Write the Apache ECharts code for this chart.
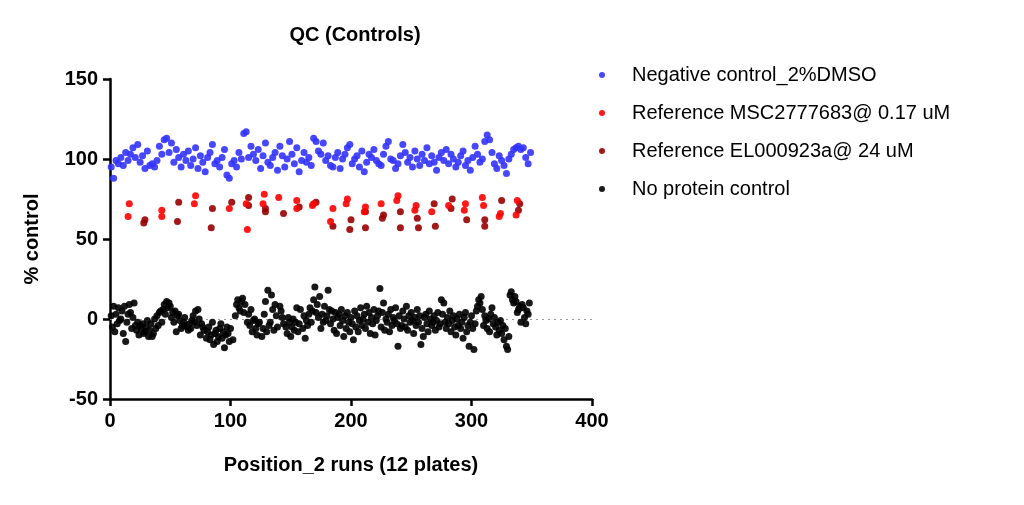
<!DOCTYPE html>
<html><head><meta charset="utf-8">
<script src="https://cdn.jsdelivr.net/npm/echarts@6/dist/echarts.min.js"></script>
<style>html,body{margin:0;background:#fff}#c{width:1024px;height:505px}</style>
</head><body><div id="c"></div>
<script>
const seriesNames=["Negative control_2%DMSO","Reference MSC2777683@ 0.17 uM","Reference EL000923a@ 24 uM","No protein control"];
const xTicks=[0,100,200,300,400];
const yTicks=[-50,0,50,100,150];
const negCtrl=[[1,95],[3,88],[5,99],[7,97],[9,101],[11,96],[13,104],[15,99],[17,103],[19,107],[21,101],[23,109],[25,98],[27,102],[29,94],[31,105],[33,96],[35,97],[37,95],[39,99],[41,108],[43,103],[45,112],[47,113],[49,104],[51,110],[53,98],[55,106],[57,101],[59,95],[61,103],[63,99],[65,105],[67,96],[69,100],[71,107],[73,94],[75,102],[77,98],[79,92],[81,101],[83,104],[85,109],[87,97],[89,99],[91,95],[93,101],[95,106],[97,90],[99,88],[101,97],[103,99],[105,95],[107,104],[109,100],[111,116],[113,117],[115,101],[117,108],[119,103],[121,99],[123,106],[125,94],[127,102],[129,110],[131,98],[133,96],[135,101],[137,104],[139,93],[141,108],[143,102],[145,95],[147,100],[149,111],[151,103],[153,97],[155,107],[157,92],[159,99],[161,104],[163,98],[165,101],[167,96],[169,113],[171,111],[173,105],[175,103],[177,110],[179,99],[181,102],[183,96],[185,95],[187,101],[189,104],[191,94],[193,100],[195,103],[197,107],[199,109],[201,97],[203,100],[205,102],[207,95],[209,105],[211,92],[213,98],[215,103],[217,101],[219,106],[221,99],[223,97],[225,96],[227,103],[229,108],[231,111],[233,100],[235,99],[237,94],[239,97],[241,102],[243,109],[245,104],[247,98],[249,101],[251,95],[253,105],[255,100],[257,96],[259,103],[261,99],[263,107],[265,97],[267,102],[269,98],[271,93],[273,101],[275,104],[277,99],[279,106],[281,97],[283,103],[285,100],[287,95],[289,98],[291,102],[293,105],[295,96],[297,99],[299,93],[301,101],[303,108],[305,103],[307,98],[309,100],[311,111],[313,115],[315,112],[317,104],[319,97],[321,94],[323,102],[325,99],[327,96],[329,91],[331,100],[333,103],[335,106],[337,107],[339,108],[341,106],[343,107],[345,101],[347,97],[349,104]];
const refMSC=[[16,72],[15,64],[43,68],[43,64],[71,77],[70,72],[99,69],[114,56],[113,72],[128,78],[127,72],[140,76],[155,74],[155,69],[169,72],[168,71],[185,69],[183,61],[197,75],[196,72],[212,70],[211,67],[225,72],[239,77],[238,74],[254,71],[253,68],[267,67],[281,71],[295,72],[294,68],[309,76],[310,71],[324,66],[323,64],[338,74],[337,65]];
const refEL=[[29,62],[28,60],[57,73],[56,61],[85,69],[84,57],[101,73],[115,76],[115,71],[129,69],[129,67],[144,66],[157,70],[171,73],[185,58],[200,62],[199,56],[212,67],[212,57],[227,65],[226,63],[241,67],[241,57],[255,63],[256,57],[270,58],[269,72],[284,75],[283,69],[296,62],[311,62],[311,58],[325,74],[340,72],[339,68]];
const noProt=[[1,2],[2,-5],[3,8],[4,-8],[5,3],[6,-3],[7,7],[8,-1],[9,0],[10,5],[11,-9],[12,8],[13,-14],[14,-2],[15,3],[16,9],[17,4],[18,-6],[19,1],[20,10],[21,-4],[22,-7],[23,-2],[24,-10],[25,-4],[26,-6],[27,-3],[28,-9],[29,-8],[30,-5],[31,-1],[32,-11],[33,-7],[34,-3],[35,-11],[36,-9],[37,0],[38,-6],[39,2],[40,-4],[41,4],[42,5],[43,-2],[44,6],[45,9],[46,3],[47,11],[48,7],[49,10],[50,8],[51,1],[52,4],[53,-2],[54,5],[55,-8],[56,2],[57,3],[58,-1],[59,-6],[60,-4],[61,-2],[62,1],[63,-4],[64,-5],[65,-7],[66,-3],[67,-6],[68,-1],[69,2],[70,-2],[71,5],[72,-4],[73,6],[74,0],[75,-10],[76,-3],[77,-5],[78,-7],[80,-12],[81,-8],[82,-5],[83,-13],[84,-10],[85,-2],[86,-16],[87,-9],[88,-7],[89,-14],[90,-11],[91,-6],[92,-3],[93,-12],[94,-8],[95,-18],[96,-10],[97,-5],[98,-9],[99,-14],[100,-6],[102,-13],[104,2],[105,9],[106,12],[107,7],[108,5],[109,11],[110,13],[111,4],[112,9],[114,-2],[115,3],[116,-4],[117,6],[118,-8],[119,-1],[120,0],[121,-6],[122,-10],[123,-3],[124,-2],[126,-11],[127,-6],[128,3],[129,11],[130,-8],[131,18],[132,-4],[133,-2],[134,15],[135,6],[136,-7],[137,9],[138,2],[139,-5],[141,8],[142,5],[143,1],[144,-3],[146,-5],[147,-9],[148,1],[149,-2],[150,-11],[151,-5],[152,0],[153,-7],[154,-2],[155,7],[156,-8],[157,-3],[158,6],[160,-6],[161,2],[162,-12],[163,-1],[164,-4],[165,3],[166,7],[167,-2],[168,5],[169,12],[170,20],[171,4],[172,9],[173,1],[174,14],[175,-6],[176,3],[177,-2],[178,8],[179,-1],[180,2],[181,18],[182,6],[183,-3],[184,5],[185,0],[186,-7],[187,4],[188,-9],[189,1],[190,3],[191,-4],[192,6],[193,-1],[194,-11],[195,2],[196,-6],[197,4],[198,-2],[199,-8],[200,1],[201,-3],[202,-13],[203,5],[204,-5],[205,2],[206,-8],[207,-1],[208,7],[209,-4],[210,0],[211,3],[212,-6],[213,8],[214,-2],[215,4],[216,-9],[217,1],[218,-3],[219,6],[220,-10],[221,-1],[222,2],[223,5],[224,19],[225,-5],[226,4],[227,10],[228,-7],[229,0],[230,-2],[231,3],[232,-8],[233,6],[234,-4],[235,1],[236,-1],[237,7],[238,-3],[239,-17],[240,2],[241,-6],[242,-4],[243,5],[244,0],[245,-5],[246,8],[247,-7],[248,2],[249,-2],[250,4],[251,-1],[252,-9],[253,1],[254,-4],[255,6],[256,-2],[257,2],[258,-16],[259,-6],[260,-11],[261,1],[262,3],[263,-3],[264,-8],[265,5],[266,0],[267,-4],[268,-2],[269,2],[270,-7],[271,-1],[272,4],[273,-5],[274,-3],[275,12],[276,3],[277,10],[278,-2],[279,-6],[280,1],[281,-3],[282,5],[283,-8],[284,-1],[285,2],[286,-5],[287,-10],[288,0],[289,-4],[290,3],[291,-6],[292,-2],[293,-12],[294,1],[295,4],[296,-8],[297,-4],[298,-17],[299,-2],[300,2],[301,-6],[302,-19],[303,-3],[304,5],[305,8],[306,12],[307,10],[308,14],[309,6],[310,-4],[311,2],[312,-1],[313,-6],[314,0],[315,-8],[316,3],[317,7],[318,-3],[319,1],[320,-5],[321,-10],[322,-2],[323,-7],[324,-1],[325,-9],[326,-4],[327,-13],[328,-6],[329,-17],[330,-19],[331,-11],[332,15],[333,17],[334,12],[335,10],[336,14],[337,11],[338,4],[339,6],[340,8],[341,-2],[342,9],[343,7],[344,1],[345,-3],[346,5],[347,3],[348,10]];
const colors=["#3333ff","#ff0000","#990000","#000000"];
const ch=echarts.init(document.getElementById('c'));
const F="Helvetica, Arial, 'Liberation Sans', sans-serif";
const mk=(i,d)=>({name:seriesNames[i],type:'scatter',data:d,symbolSize:7,itemStyle:{color:colors[i],opacity:0.9},z:10-i});
const s=[mk(0,negCtrl),mk(1,refMSC),mk(2,refEL),mk(3,noProt)];
s[3].markLine={silent:true,symbol:'none',label:{show:false},lineStyle:{color:'#999',type:[2,4],width:1},data:[[{coord:[0,0]},{coord:[400,0]}]]};
ch.setOption({
 animation:false,
 title:{text:'QC (Controls)',left:350,top:20,textAlign:'center',textStyle:{fontFamily:F,fontSize:20,fontWeight:'bold',color:'#000'}},
 legend:{orient:'vertical',left:594,top:60,itemGap:18,itemWidth:10,itemHeight:6,icon:'circle',textStyle:{fontFamily:F,fontSize:20,color:'#000',padding:[0,0,0,20]},data:seriesNames},
 grid:{left:110,right:432,top:79,bottom:106},
 xAxis:{type:'value',min:0,max:400,interval:100,name:'Position_2 runs (12 plates)',nameLocation:'middle',nameGap:56,
  nameTextStyle:{fontFamily:F,fontSize:20,fontWeight:'bold',color:'#000'},
  axisLine:{show:true,onZero:false,lineStyle:{color:'#000',width:2.5}},axisTick:{show:true,length:7,lineStyle:{width:2.5,color:'#000'}},
  axisLabel:{fontFamily:F,fontSize:20,fontWeight:'bold',color:'#000',margin:12,formatter:v=>xTicks.includes(v)?String(v):''},splitLine:{show:false}},
 yAxis:{type:'value',min:-50,max:150,interval:50,name:'% control',nameLocation:'middle',nameGap:68,
  nameTextStyle:{fontFamily:F,fontSize:20,fontWeight:'bold',color:'#000'},
  axisLine:{show:true,onZero:false,lineStyle:{color:'#000',width:2.5}},axisTick:{show:true,length:7,lineStyle:{width:2.5,color:'#000'}},
  axisLabel:{fontFamily:F,fontSize:20,fontWeight:'bold',color:'#000',margin:12,formatter:v=>yTicks.includes(v)?String(v):''},splitLine:{show:false}},
 series:s
});
</script></body></html>
